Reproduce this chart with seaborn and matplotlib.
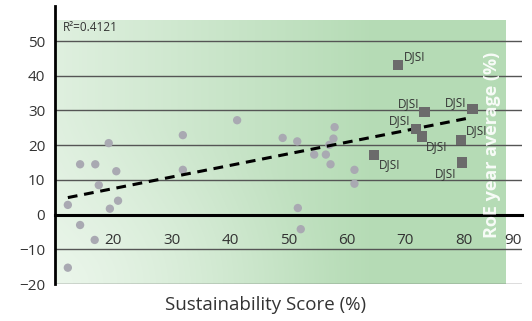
import numpy as np
import pandas as pd
import matplotlib
matplotlib.use("Agg")
import matplotlib.pyplot as plt
import seaborn as sns

# Datos
other_x = [12.2, 14.3, 16.9, 20.5, 17.5, 20.8, 19.4, 14.3, 16.8, 12.2, 31.9,
           19.2, 31.9, 41.2, 49.0, 51.5, 57.9, 57.7, 57.0, 54.4, 56.4, 57.2,
           61.3, 61.3, 51.6, 52.1]
other_y = [2.8, 14.5, 14.5, 12.5, 8.5, 4.0, 1.7, -3.0, -7.3, -15.3, 12.9,
           20.6, 22.9, 27.2, 22.1, 21.1, 25.2, 21.9, 20.1, 17.3, 17.3, 14.5,
           12.9, 8.9, 1.9, -4.2]
djsi_x = [68.8, 73.3, 81.5, 71.9, 72.9, 79.5, 64.6, 79.7]
djsi_y = [43.2, 29.5, 30.4, 24.7, 22.5, 21.4, 17.1, 15.0]
djsi_label = "DJSI"
trend_x = [12.2, 80.5]
trend_y = [4.9, 27.7]
r2_text = "R²=0.4121"
x_ticks = [20, 30, 40, 50, 60, 70, 80, 90]
y_ticks = [-20, -10, 0, 10, 20, 30, 40, 50]
x_label = "Sustainability Score (%)"
y_label = "RoE year average (%)"

# desplazamientos de las etiquetas DJSI (puntos) y alineacion
label_offsets = [(4, 6), (-4, 6), (-4, 5), (-4, 6), (3, -7), (4, 7), (4, -7), (-4, -8)]

sns.set_style("white")
plt.rcParams["font.family"] = ["Open Sans", "DejaVu Sans"]

fig = plt.figure(figsize=(5.32, 3.21), dpi=100)
ax = fig.add_axes([55 / 532, 1 - 284 / 321, (522 - 55) / 532, (284 - 6.4) / 321])
ax.set_xlim(10, 90)
ax.set_ylim(-20, 60)

# fondo degradado verde
nx, ny = 400, 300
gx = np.linspace(10, 87.2, nx)
gy = np.linspace(-20, 56, ny)
XX, YY = np.meshgrid(gx, gy)
left = np.array([0.875, 0.94, 0.875])
right = np.array([0.71, 0.86, 0.71])
t = np.clip((XX - 10) / 55, 0, 1)[..., None]
img = left * (1 - t) + right * t
# zona radial clara abajo a la izquierda
mask = (XX < 60) & (YY < 30)
d = np.sqrt(((XX - 10) / 50) ** 2 + ((YY + 20) / 50) ** 2)
w = np.clip(1 - d, 0, 1) ** 1.3 * 0.55
w = np.where(mask, w, 0)[..., None]
img = img * (1 - w) + np.array([0.96, 0.985, 0.96]) * w
ax.imshow(img, extent=[10, 87.2, -20, 56], origin="lower", aspect="auto", zorder=0)

for yv in y_ticks:
    if yv != 0:
        ax.axhline(yv, color="#555555", lw=1, zorder=1)

ax.plot(trend_x, trend_y, color="black", lw=2.2, ls=(0, (3.2, 2.2)), zorder=4)

sns.scatterplot(x=other_x, y=other_y, ax=ax, color="#a9a9b2", s=36,
                edgecolor="none", zorder=3)
sns.scatterplot(x=djsi_x, y=djsi_y, ax=ax, color="#6b6b6b", marker="s", s=55,
                edgecolor="none", zorder=5)

for xv, yv, (dx, dy) in zip(djsi_x, djsi_y, label_offsets):
    ax.annotate(djsi_label, (xv, yv), xytext=(dx, dy), textcoords="offset points",
                ha="left" if dx > 0 else "right", va="center",
                fontsize=8.5, color="#333333", zorder=6)

ax.text(11.4, 54.0, r2_text, fontsize=8.5, color="#333333", va="center", ha="left")
ax.text(84.8, 20, y_label, rotation=90, color="white", fontsize=13,
        fontweight="bold", ha="center", va="center", alpha=0.9, zorder=6)

ax.spines["top"].set_visible(False)
ax.spines["right"].set_visible(False)
ax.spines["left"].set_linewidth(2)
ax.spines["left"].set_color("black")
ax.spines["bottom"].set_position(("data", 0))
ax.spines["bottom"].set_linewidth(2.2)
ax.spines["bottom"].set_color("black")
ax.spines["bottom"].set_zorder(4)

ax.set_xticks(x_ticks)
ax.set_yticks(y_ticks)
ax.tick_params(axis="x", direction="out", length=10.5, width=2, color="black",
               labelsize=11, labelcolor="#333333", pad=3)
ax.tick_params(axis="y", length=0, labelsize=11, labelcolor="#333333", pad=7)
ax.get_xticklabels()[-1].set_ha("right")

fig.text(266 / 532, 1 - 305 / 321, x_label, fontsize=13.5, color="#333333",
         ha="center", va="center")

fig.savefig("out.png", dpi=100)
